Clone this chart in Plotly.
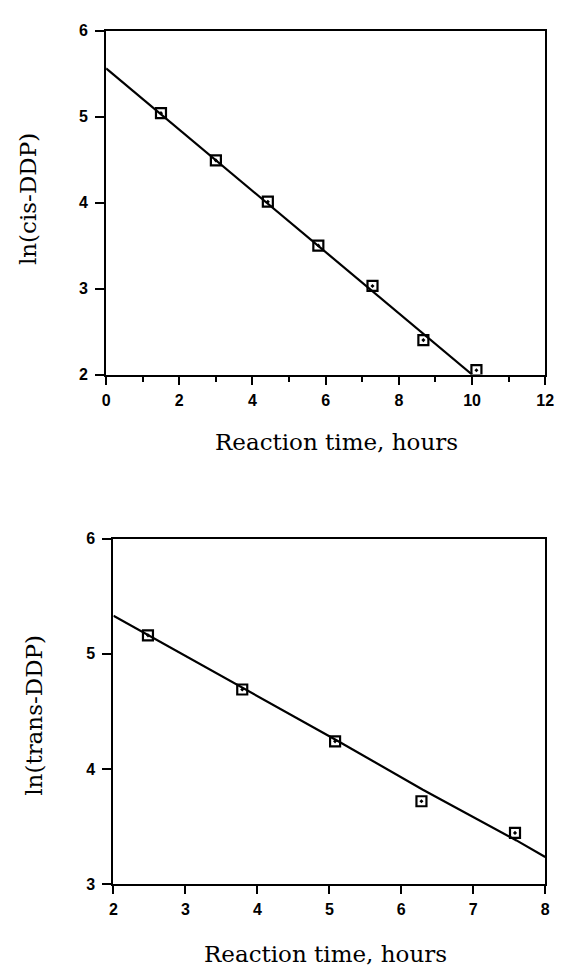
import plotly.graph_objects as go

# ---- data: cis-DDP ----
cis_time = [1.5, 3.0, 4.42, 5.8, 7.28, 8.67, 10.12]
cis_ln = [5.04, 4.49, 4.01, 3.50, 3.03, 2.40, 2.05]
cis_fit_time = [0.0, 10.0]
cis_fit_ln = [5.56, 2.0]

# ---- data: trans-DDP ----
trans_time = [2.48, 3.79, 5.08, 6.28, 7.58]
trans_ln = [5.16, 4.69, 4.24, 3.72, 3.445]
trans_fit_time = [2.0, 3.8, 5.1, 6.3, 7.6, 8.0]
trans_fit_ln = [5.33, 4.70, 4.25, 3.82, 3.38, 3.236]

x_title = "Reaction time, hours"
y_title_top = "ln(cis-DDP)"
y_title_bottom = "ln(trans-DDP)"

W, H = 564, 977

fig = go.Figure()

marker = dict(symbol="square-open-dot", size=10, color="black", line=dict(width=2.2, color="black"))
line = dict(color="black", width=2.2)

fig.add_trace(go.Scatter(x=cis_fit_time, y=cis_fit_ln, mode="lines", line=line,
                         xaxis="x", yaxis="y", showlegend=False))
fig.add_trace(go.Scatter(x=cis_time, y=cis_ln, mode="markers", marker=marker,
                         xaxis="x", yaxis="y", showlegend=False))
fig.add_trace(go.Scatter(x=trans_fit_time, y=trans_fit_ln, mode="lines", line=line,
                         xaxis="x2", yaxis="y2", showlegend=False))
fig.add_trace(go.Scatter(x=trans_time, y=trans_ln, mode="markers", marker=marker,
                         xaxis="x2", yaxis="y2", showlegend=False))

tickfont = dict(family="Liberation Sans, Arial, sans-serif", size=16, color="black", weight="bold")
common = dict(showgrid=False, zeroline=False, showline=True, linecolor="black", linewidth=2,
              mirror=True, ticks="outside", tickcolor="black", tickwidth=2, tickfont=tickfont)

def px_x(p):
    return p / W

def px_y(p):
    return 1 - p / H

fig.update_layout(
    width=W, height=H, autosize=False,
    margin=dict(l=0, r=0, t=0, b=0),
    paper_bgcolor="white", plot_bgcolor="white",
    xaxis=dict(domain=[px_x(104.5), px_x(554)], range=[0, 12], dtick=2, tick0=0, ticklen=8,
               minor=dict(dtick=1, ticks="outside", ticklen=5, tickcolor="black", tickwidth=2),
               ticklabelstandoff=2, anchor="y", **common),
    yaxis=dict(domain=[px_y(373), px_y(23)], range=[2, 6], dtick=1, ticklen=9,
               ticklabelstandoff=4, anchor="x", **common),
    xaxis2=dict(domain=[px_x(112), px_x(554)], range=[2, 8], dtick=1, ticklen=8,
                ticklabelstandoff=2, anchor="y2", **common),
    yaxis2=dict(domain=[px_y(891.7), px_y(540)], range=[3, 6], dtick=1, ticklen=9,
                ticklabelstandoff=4, anchor="x2", **common),
)

title_font = dict(family="DejaVu Serif, serif", size=23, color="black")
fig.add_annotation(text=x_title, x=px_x(340), y=px_y(442), xref="paper", yref="paper",
                   xanchor="center", yanchor="middle", showarrow=False, font=title_font)
fig.add_annotation(text=x_title, x=px_x(329), y=px_y(963), xref="paper", yref="paper",
                   xanchor="center", yanchor="middle", showarrow=False, font=title_font)
fig.add_annotation(text=y_title_top, x=px_x(24), y=px_y(194), xref="paper", yref="paper",
                   xanchor="center", yanchor="middle", textangle=-90, showarrow=False, font=title_font)
fig.add_annotation(text=y_title_bottom, x=px_x(31), y=px_y(720), xref="paper", yref="paper",
                   xanchor="center", yanchor="middle", textangle=-90, showarrow=False, font=title_font)

fig.write_html("out.html")
